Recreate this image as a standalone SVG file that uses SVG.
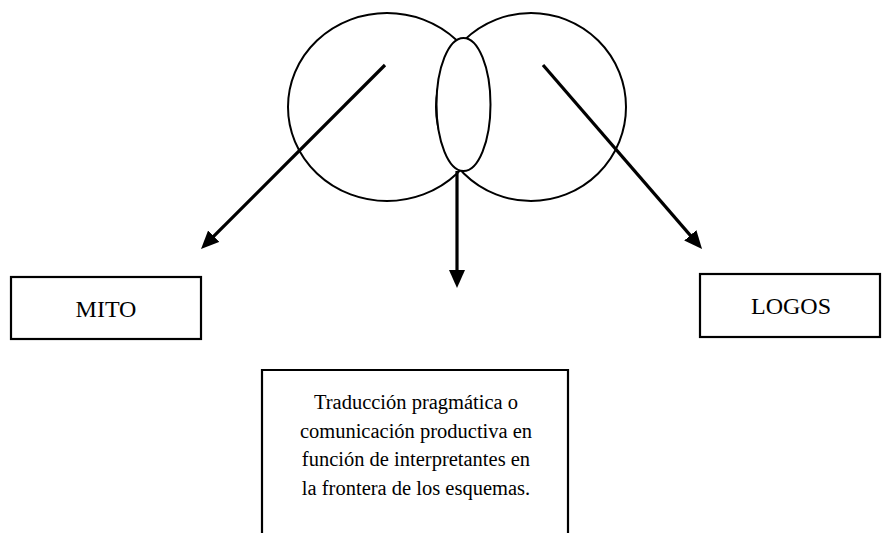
<svg xmlns="http://www.w3.org/2000/svg" width="882" height="533" viewBox="0 0 882 533">
<style>
.shape{fill:none;stroke:#000;stroke-width:2}
.lens{fill:#fff;stroke:#000;stroke-width:2}
.box{fill:#fff;stroke:#000;stroke-width:2.2}
.arrow{stroke:#000;stroke-width:3.2;fill:none}
.lbl{font-family:"Liberation Serif","Times New Roman",serif;fill:#000;text-anchor:middle}
.big{font-size:24px}
.body{font-size:20.5px}
</style>
<defs>
<marker id="ah" markerUnits="userSpaceOnUse" markerWidth="20" markerHeight="18" refX="8" refY="8" orient="auto">
<path d="M0,0 L18,8 L0,16 z" fill="#000"/>
</marker>
</defs>
<g id="venn">
<ellipse class="shape" cx="387" cy="107" rx="99" ry="94"/>
<ellipse class="shape" cx="531" cy="107" rx="95" ry="94"/>
<ellipse class="lens" cx="463.5" cy="104.5" rx="27" ry="66.5"/>
</g>
<g id="connectors">
<line class="arrow" x1="385" y1="65" x2="208.1" y2="241.9" marker-end="url(#ah)"/>
<line class="arrow" x1="457" y1="171" x2="457" y2="278" marker-end="url(#ah)"/>
<line class="arrow" x1="543" y1="65" x2="695.5" y2="241.4" marker-end="url(#ah)"/>
</g>
<g id="mito">
<rect class="box" x="11" y="277" width="190" height="62"/>
<text class="lbl big" x="106" y="317">MITO</text>
</g>
<g id="logos">
<rect class="box" x="700" y="274" width="180" height="63"/>
<text class="lbl big" x="791" y="314">LOGOS</text>
</g>
<g id="traduccion">
<path class="box" d="M262,540 L262,370 L568,370 L568,540"/>
<text class="lbl body" x="416" y="409">Traducción pragmática o</text>
<text class="lbl body" x="416" y="438">comunicación productiva en</text>
<text class="lbl body" x="416" y="466">función de interpretantes en</text>
<text class="lbl body" x="416" y="495">la frontera de los esquemas.</text>
</g>
</svg>
